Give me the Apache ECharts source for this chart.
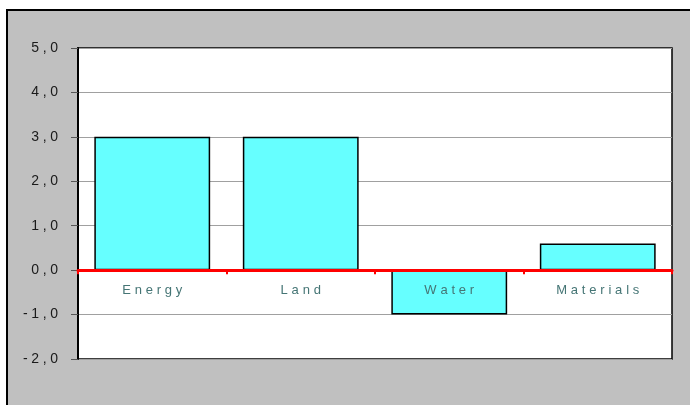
<!DOCTYPE html>
<html>
<head>
<meta charset="utf-8">
<script src="https://cdn.jsdelivr.net/npm/echarts@6/dist/echarts.min.js"></script>
<style>
html,body{margin:0;padding:0;background:#fff;}
#chart{width:690px;height:405px;}
</style>
</head>
<body>
<div id="chart"></div>
<script>
const categories = ['Energy', 'Land', 'Water', 'Materials'];
const values = [3.0, 3.0, -1.0, 0.6];
const yMin = -2, yMax = 5, yStep = 1;

const W = 690, H = 405;
const gridTop = 48, gridBottom = 46;
const plotH = H - gridTop - gridBottom;
const zeroFromBottom = plotH * (0 - yMin) / (yMax - yMin);

// letter-spaced text via rich segments
function spaced(s) {
  const ch = s.split('');
  return ch.map((c, i) => (i < ch.length - 1 ? '{s|' : '{e|') + c + '}').join('');
}
const FONT = 'Liberation Sans, Arial, sans-serif';

const chart = echarts.init(document.getElementById('chart'), null, {renderer: 'canvas'});
chart.setOption({
  animation: false,
  backgroundColor: '#ffffff',
  graphic: [{
    type: 'rect', z: -100,
    shape: {x: 7, y: 10, width: 720, height: 420},
    style: {fill: '#c0c0c0', stroke: '#000', lineWidth: 2}
  }],
  grid: {
    left: 78, top: gridTop, right: 18, bottom: gridBottom,
    show: true, backgroundColor: '#ffffff', borderColor: '#000', borderWidth: 1.5
  },
  xAxis: {
    type: 'category',
    data: categories,
    position: 'bottom',
    offset: -zeroFromBottom,
    z: 10,
    axisLine: {onZero: false, lineStyle: {color: '#ff0000', width: 3}},
    axisTick: {show: true, interval: 0, length: 4, lineStyle: {color: '#ff0000', width: 2}},
    axisLabel: {
      interval: 0,
      hideOverlap: false,
      margin: 14,
      formatter: v => spaced(v),
      rich: {
        s: {color: '#457575', fontFamily: FONT, fontSize: 13, padding: [0, 3.8, 0, 0]},
        e: {color: '#457575', fontFamily: FONT, fontSize: 13}
      }
    }
  },
  yAxis: {
    type: 'value',
    min: yMin, max: yMax, interval: yStep,
    axisLine: {show: true, lineStyle: {color: '#000', width: 2}},
    axisTick: {show: true, length: 7, lineStyle: {color: '#555'}},
    splitLine: {lineStyle: {color: '#a0a0a0', width: 1}},
    axisLabel: {
      margin: 20,
      formatter: v => spaced(v.toFixed(1).replace('.', ',')),
      rich: {
        s: {color: '#1a1a1a', fontFamily: FONT, fontSize: 14, padding: [0, 3.6, 0, 0]},
        e: {color: '#1a1a1a', fontFamily: FONT, fontSize: 14}
      }
    }
  },
  series: [{
    type: 'bar',
    data: values,
    barWidth: '78%',
    itemStyle: {color: '#66ffff', borderColor: '#000', borderWidth: 1.5}
  }]
});
</script>
</body>
</html>
